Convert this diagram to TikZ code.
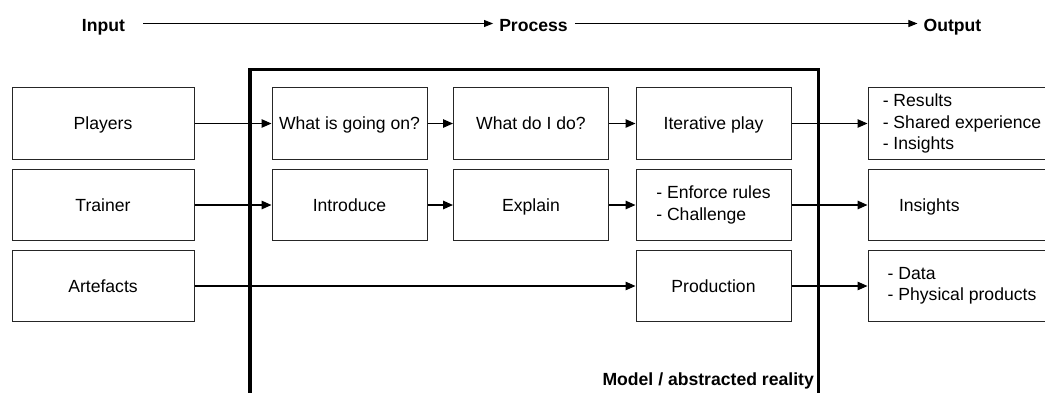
\documentclass[tikz,border=0pt]{standalone}
\usepackage{fontspec}
\setmainfont{Liberation Sans}
\usetikzlibrary{arrows.meta}
\begin{document}
\begin{tikzpicture}[x=1pt,y=-1pt,
  every node/.style={font=\fontsize{17.6}{21.5}\selectfont},
  stagebox/.style={draw=black!85, line width=1pt, minimum height=71.5pt, inner sep=0pt, align=left},
  oneline/.style={text height=12.6pt, text depth=0pt},
  inbox/.style={stagebox, oneline, minimum width=182pt},
  procbox/.style={stagebox, minimum width=155pt},
  outbox/.style={stagebox, minimum width=188pt},
  flow/.style={-{Triangle[length=10pt,width=8.5pt]}, line width=#1},
  flow/.default=1.2pt,
  heading/.style={font=\fontsize{17.6}{21.5}\selectfont\bfseries, inner sep=0pt, text height=15pt, text depth=0pt},
  phase/.style={-{Triangle[length=9pt,width=7pt]}, line width=0.9pt}
]
\useasboundingbox (0,0) rectangle (1045,392);
\clip (0,0) rectangle (1045,392);

% frame of the model, open towards the bottom
\draw[line width=3.5pt] (250,69.5) rectangle (818.5,400);
\node[heading, anchor=base east] (modellabel) at (814,385) {Model / abstracted reality};

% phase headings
\node[heading] (input) at (103.5,23.5) {Input};
\node[heading] (process) at (533.5,23.5) {Process};
\node[heading] (output) at (952.5,23.5) {Output};
\draw[phase, shorten <=18pt, shorten >=6pt] (input.east) -- (process.west);
\draw[phase, shorten <=7pt, shorten >=6pt] (process.east) -- (output.west);

% inputs
\node[inbox] (players) at (103,123.5) {Players};
\node[inbox] (trainer) at (103,205) {Trainer};
\node[inbox] (artefacts) at (103,286) {Artefacts};

% process steps
\node[procbox, oneline] (orient) at (349.5,123.5) {What is going on?};
\node[procbox, oneline] (decide) at (531,123.5) {What do I do?};
\node[procbox, oneline] (play) at (713.5,123.5) {Iterative play};
\node[procbox, oneline] (introduce) at (349.5,205) {Introduce};
\node[procbox, oneline] (explain) at (531,205) {Explain};
\node[procbox] (enforce) at (713.5,205) {- Enforce rules\\- Challenge};
\node[procbox, oneline] (production) at (713.5,286) {Production};

% outputs
\node[outbox] (outcomes) at (962,123.5) {- Results\\- Shared experience\\- Insights};
\node[outbox, oneline, text width=126pt, inner xsep=31pt] (insights) at (962,205) {Insights};
\node[outbox] (products) at (962,286) {- Data\\- Physical products};

% flows
\draw[flow=1pt] (players.east) -- (orient.west);
\draw[flow=1.2pt] (orient.east) -- (decide.west);
\draw[flow=1.2pt] (decide.east) -- (play.west);
\draw[flow=1pt] (play.east) -- (outcomes.west);
\draw[flow=1.6pt] (trainer.east) -- (introduce.west);
\draw[flow=1.6pt] (introduce.east) -- (explain.west);
\draw[flow=1.6pt] (explain.east) -- (enforce.west);
\draw[flow=1.6pt] (enforce.east) -- (insights.west);
\draw[flow=1.3pt] (artefacts.east) -- (production.west);
\draw[flow=1.3pt] (production.east) -- (products.west);
\end{tikzpicture}
\end{document}
